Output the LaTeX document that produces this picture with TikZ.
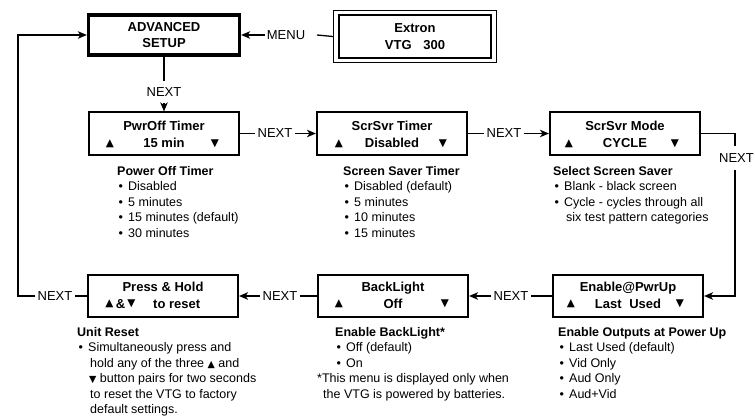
\documentclass[tikz,border=0pt]{standalone}
\usepackage{fontspec}
\setmainfont{Liberation Sans}
\newfontfamily\symf{DejaVu Sans}
\usetikzlibrary{arrows.meta}
\newcommand{\tup}{{\symf\fontsize{10.5}{12}\selectfont ▲}}
\newcommand{\tdn}{{\symf\fontsize{10.5}{12}\selectfont ▼}}
\newcommand{\itup}{{\symf\fontsize{9.5}{10}\selectfont ▲}}
\newcommand{\itdn}{{\symf\fontsize{9.5}{10}\selectfont ▼}}
\newcommand{\bul}{\makebox[11pt][l]{\hspace{1.5pt}•}}
\tikzset{
  box/.style={draw, line width=1.6pt, minimum width=150.5pt, minimum height=42.5pt, inner sep=0pt},
  boxtxt/.style={font=\bfseries\fontsize{13}{15}\selectfont, inner sep=0pt, anchor=base},
  tri/.style={inner sep=0pt, anchor=center},
  desc/.style={font=\fontsize{12.5}{15}\selectfont, inner sep=0pt, anchor=base west},
  lbl/.style={font=\fontsize{13}{15}\selectfont, inner xsep=2pt, inner ysep=1pt},
  conn/.style={line width=1.3pt},
  arr/.style={conn, -{Stealth[length=9pt,width=7.5pt,inset=2.5pt]}}
}
\begin{document}
\begin{tikzpicture}[x=1pt,y=-1pt]
\useasboundingbox (0,0) rectangle (755,415);
% top
\node[draw, line width=3.3pt, minimum width=151pt, minimum height=40pt, inner sep=0pt] (adv) at (164,35) {};
\node[boxtxt] (adva) at (164,31.6) {ADVANCED};
\node[boxtxt] (advb) at (164,47.7) {SETUP};
\node[draw, line width=1.2pt, minimum width=163pt, minimum height=52pt, inner sep=0pt] (ext) at (415,36.5) {};
\node[draw, line width=2pt, minimum width=152pt, minimum height=43pt, inner sep=0pt] (exti) at (415,36.5) {};
\node[boxtxt] (exta) at (415,32.7) {Extron};
\node[boxtxt] (extb) at (415,49.7) {VTG\hspace*{8pt} 300};
\node[lbl] (menu) at (286,35) {MENU};
\coordinate (mc) at (317,35);
\draw[conn] (ext.west) -- (mc);
\draw[arr] (menu.west) -- (adv.east);
% row 1
\node[box] (p1) at (164,133.5) {};
\node[box] (p2) at (392,133.5) {};
\node[box] (p3) at (625,133.5) {};
% down from advanced
\node[lbl, inner ysep=6pt] (n0) at (164,92) {NEXT};
\draw[conn] (adv.south) -- (n0.north);
\draw[arr] (n0.south) -- (p1.north);
\node[boxtxt] (p1a) at (164,130.6) {PwrOff Timer};
\node[boxtxt] (p1b) at (164,147.6) {15 min};
\node[tri] (p1u) at (110,143.5) {\tup};
\node[tri] (p1d) at (215,143.5) {\tdn};
\node[boxtxt] (p2a) at (392,130.6) {ScrSvr Timer};
\node[boxtxt] (p2b) at (392,147.6) {Disabled};
\node[tri] (p2u) at (339,143.5) {\tup};
\node[tri] (p2d) at (443,143.5) {\tdn};
\node[boxtxt] (p3a) at (625,130.6) {ScrSvr Mode};
\node[boxtxt] (p3b) at (625,147.6) {CYCLE};
\node[tri] (p3u) at (569,143.5) {\tup};
\node[tri] (p3d) at (675,143.5) {\tdn};
\node[lbl] (n1) at (275,133.5) {NEXT};
\draw[conn] (p1.east) -- (n1.west);
\draw[arr] (n1.east) -- (p2.west);
\node[lbl] (n2) at (504,133.5) {NEXT};
\draw[conn] (p2.east) -- (n2.west);
\draw[arr] (n2.east) -- (p3.west);
% row 2
\node[box] (h1) at (163,296) {};
\node[box] (b2) at (393,296) {};
\node[box] (e3) at (628,296) {};
% right side
\coordinate (c1) at (735,133.5);
\coordinate (c2) at (735,296);
\node[lbl, inner ysep=7pt] (n3) at (736.5,158) {NEXT};
\draw[conn] (p3.east) -- (c1) -- (c1 |- n3.north);
\draw[arr] (c2 |- n3.south) -- (c2) -- (e3.east);
\node[boxtxt] (h1a) at (163,291.7) {Press \& Hold};
\node[tri] (h1u) at (109.5,304) {\tup};
\node[boxtxt] (h1m) at (120.5,308.2) {\&};
\node[tri] (h1d) at (131.5,304) {\tdn};
\node[boxtxt, anchor=base west] (h1b) at (153,308.2) {to reset};
\node[boxtxt] (b2a) at (393,291.7) {BackLight};
\node[boxtxt] (b2b) at (393,308.2) {Off};
\node[tri] (b2u) at (339,304) {\tup};
\node[tri] (b2d) at (445,304) {\tdn};
\node[boxtxt] (e3a) at (628,291.7) {Enable@PwrUp};
\node[boxtxt] (e3b) at (628,308.2) {Last\hspace*{4pt} Used};
\node[tri] (e3u) at (571,304) {\tup};
\node[tri] (e3d) at (680,304) {\tdn};
\node[lbl] (n4) at (511,296) {NEXT};
\draw[conn] (e3.west) -- (n4.east);
\draw[arr] (n4.west) -- (b2.east);
\node[lbl] (n5) at (280,296) {NEXT};
\draw[conn] (b2.west) -- (n5.east);
\draw[arr] (n5.west) -- (h1.east);
\node[lbl] (n6) at (55,296) {NEXT};
\draw[conn] (h1.west) -- (n6.east);
\coordinate (c3) at (18,296);
\coordinate (c4) at (18,35);
\draw[arr] (n6.west) -- (c3) -- (c4) -- (adv.west);
% descriptions
\foreach \t [count=\i from 0] in {{\textbf{Power Off Timer}},{\bul Disabled},{\bul 5 minutes},{\bul 15 minutes (default)},{\bul 30 minutes}}
  \node[desc] (da-\i) at (117,175.5+15.4*\i) {\t};
\foreach \t [count=\i from 0] in {{\textbf{Screen Saver Timer}},{\bul Disabled (default)},{\bul 5 minutes},{\bul 10 minutes},{\bul 15 minutes}}
  \node[desc] (db-\i) at (343,175.5+15.4*\i) {\t};
\foreach \t [count=\i from 0] in {{\textbf{Select Screen Saver}},{\bul Blank - black screen},{\bul Cycle - cycles through all},{\hspace*{13pt}six test pattern categories}}
  \node[desc] (dc-\i) at (553,175.5+15.4*\i) {\t};
\foreach \t [count=\i from 0] in {{\textbf{Unit Reset}},{\bul Simultaneously press and},{\hspace*{13pt}hold any of the three \itup\ and},{\hspace*{12pt}\itdn\ button pairs for two seconds},{\hspace*{13pt}to reset the VTG to factory},{\hspace*{13pt}default settings.}}
  \node[desc] (dd-\i) at (77,336.5+15.4*\i) {\t};
\foreach \t [count=\i from 0] in {{\textbf{Enable BackLight*}},{\bul Off (default)},{\bul On},{\hspace*{-18pt}*This menu is displayed only when},{\hspace*{-12pt}the VTG is powered by batteries.}}
  \node[desc] (de-\i) at (335,336.5+15.4*\i) {\t};
\foreach \t [count=\i from 0] in {{\textbf{Enable Outputs at Power Up}},{\bul Last Used (default)},{\bul Vid Only},{\bul Aud Only},{\bul Aud+Vid}}
  \node[desc] (df-\i) at (558,336.5+15.4*\i) {\t};
\end{tikzpicture}
\end{document}
